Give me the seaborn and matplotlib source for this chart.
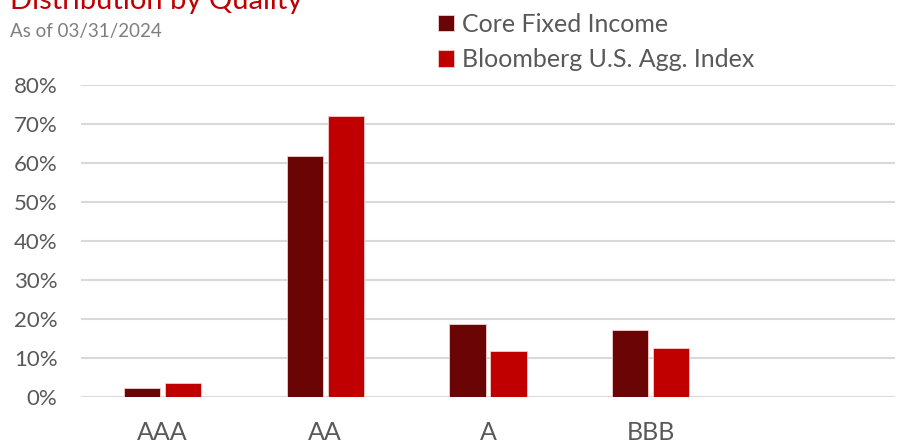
import seaborn as sns
import matplotlib.pyplot as plt
import matplotlib.ticker as mticker
import pandas as pd

categories = ["AAA", "AA", "A", "BBB"]
core_fixed_income = [2.3, 61.8, 18.7, 17.2]
bloomberg_agg = [3.6, 72.0, 11.8, 12.6]
series_names = ["Core Fixed Income", "Bloomberg U.S. Agg. Index"]
y_ticks = [0, 10, 20, 30, 40, 50, 60, 70, 80]

df = pd.DataFrame({
    "Quality": categories * 2,
    "Value": core_fixed_income + bloomberg_agg,
    "Series": [series_names[0]] * len(categories) + [series_names[1]] * len(categories),
})

sns.set_style("white")
plt.rcParams["font.family"] = ["Lato", "DejaVu Sans"]

fig = plt.figure(figsize=(9.02, 4.41), dpi=100)
ax = fig.add_axes([0.0898, 0.0998, 0.9024, 0.7075])

ax.yaxis.grid(True, color="#d9d9d9", linewidth=1.5)
ax.set_axisbelow(True)

sns.barplot(data=df, x="Quality", y="Value", hue="Series", order=categories,
            palette=["#6b0404", "#c00000"], saturation=1, width=0.504, gap=0.12,
            edgecolor="#f2d0d0", linewidth=0.6, ax=ax)

ax.set_xlim(-0.5, 4.5)
ax.set_ylim(0, 80)
ax.set_yticks(y_ticks)
ax.yaxis.set_major_formatter(mticker.FuncFormatter(lambda v, p: f"{v:.0f}%"))
ax.tick_params(axis="y", labelsize=16, colors="#595959", length=0, pad=17)
ax.tick_params(axis="x", labelsize=18, colors="#595959", length=0, pad=17)
ax.set_xlabel("")
ax.set_ylabel("")
for s in ax.spines.values():
    s.set_visible(False)

handles, labels = ax.get_legend_handles_labels()
ax.legend(handles, labels, loc="upper left", bbox_to_anchor=(415 / 902, 1.022),
          bbox_transform=fig.transFigure, frameon=False, fontsize=18,
          handlelength=0.65, handleheight=0.65, handletextpad=0.35,
          labelspacing=0.5, labelcolor="#595959")

fig.text(10 / 902, 1 - 9 / 441, "Distribution by Quality", color="#c00000",
         fontsize=21, va="baseline", ha="left")
fig.text(10 / 902, 1 - 37 / 441, "As of 03/31/2024", color="#7f7f7f",
         fontsize=13.5, va="baseline", ha="left")

fig.savefig("out.png", dpi=100)
